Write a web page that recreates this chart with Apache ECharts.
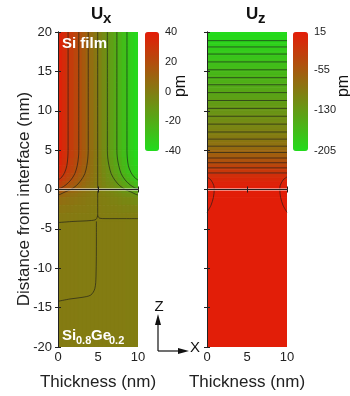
<!DOCTYPE html>
<html>
<head>
<meta charset="utf-8">
<script src="https://cdn.jsdelivr.net/npm/echarts@6/dist/echarts.min.js"></script>
<style>
  html, body { margin: 0; padding: 0; background: #fff; }
  #chart { width: 350px; height: 396px; }
</style>
</head>
<body>
<div id="chart"></div>
<script>
const FONT = "'Liberation Sans', Arial, sans-serif";

// Ux field: cell edges across the thickness, band edges in depth, one row of values per band
const uxEdges = [0, 0.5, 1, 1.5, 2, 2.5, 3, 3.5, 4, 4.5, 5, 5.5, 6, 6.5, 7, 7.5, 8, 8.5, 9, 9.5, 10];
const uxBandEdges = [20, 5, 4, 3, 2, 1.5, 1, 0.5, 0, -0.5, -1, -2, -3, -4, -20];
const uxRows = [
  [38, 34, 30, 26.5, 22.5, 18.7, 14.5, 10.2, 6, 2, -2.3, -6.3, -10.6, -14.8, -19, -23.2, -27, -31, -34.8, -38.5],
  [37.5, 33.5, 29.5, 25.8, 22, 18.2, 14.2, 10, 5.8, 1.9, -2.2, -6.1, -10.3, -14.4, -18.6, -22.7, -26.5, -30.5, -34.3, -38],
  [36.5, 32.3, 28.5, 24.6, 20.8, 17, 13.2, 9.4, 5.5, 1.8, -2.1, -5.8, -9.7, -13.6, -17.4, -21.4, -25.3, -29.5, -33.3, -37],
  [35, 31, 27, 23.2, 19.5, 15.7, 12, 8.5, 5, 1.6, -1.9, -5.3, -8.8, -12.4, -16.2, -20, -24, -28, -32, -35.5],
  [32, 28, 24.3, 20.7, 17.2, 14, 10.8, 7.5, 4.5, 1.5, -1.7, -4.8, -7.8, -11, -14.3, -17.8, -21.3, -25, -29, -32.5],
  [30, 26, 22.3, 18.8, 15.6, 12.6, 9.6, 6.7, 4, 1.3, -1.5, -4.3, -7, -9.9, -12.9, -16, -19.2, -22.7, -26.5, -30.5],
  [26, 22.5, 19.2, 16, 13.2, 10.6, 8.1, 5.7, 3.5, 1.1, -1.3, -3.7, -6, -8.4, -11, -13.6, -16.4, -19.5, -23, -26.5],
  [22, 19, 16, 13.3, 10.8, 8.6, 6.6, 4.7, 2.9, 0.9, -1.1, -3.1, -5, -7, -9, -11.2, -13.6, -16.3, -19.3, -22.5],
  [15, 12.7, 10.5, 8.6, 7, 5.5, 4.2, 3, 1.8, 0.6, -0.7, -2, -3.2, -4.5, -5.8, -7.3, -9, -11, -13, -15.5],
  [10, 8.6, 7.2, 5.9, 4.8, 3.8, 2.9, 2, 1.2, 0.4, -0.5, -1.3, -2.2, -3.1, -4, -5, -6.1, -7.4, -8.8, -10.3],
  [6, 5.2, 4.5, 3.8, 3.1, 2.5, 1.9, 1.3, 0.8, 0.3, -0.3, -0.8, -1.4, -2, -2.6, -3.3, -4, -4.7, -5.4, -6.2],
  [3, 2.7, 2.4, 2, 1.7, 1.4, 1.1, 0.8, 0.5, 0.2, -0.2, -0.5, -0.8, -1.1, -1.4, -1.8, -2.1, -2.4, -2.7, -3],
  [1.2, 1.1, 1, 0.9, 0.8, 0.6, 0.5, 0.3, 0.2, 0.1, -0.1, -0.2, -0.3, -0.5, -0.6, -0.7, -0.9, -1, -1.1, -1.2],
  [0.4, 0.4, 0.3, 0.3, 0.3, 0.2, 0.2, 0.1, 0.1, 0, 0, -0.1, -0.1, -0.1, -0.2, -0.2, -0.2, -0.3, -0.3, -0.3]
];

// Ux contour lines, [thickness, depth]
const uxContours = [
  [[1.26, 20], [1.26, 5], [1.22, 4], [1.1, 3], [0.85, 2.2], [0.5, 1.6], [0.15, 1.3], [0, 1.2]],
  [[2.6, 20], [2.6, 5], [2.55, 4], [2.4, 3], [2.1, 2], [1.6, 1.2], [1, 0.6], [0.4, 0.2], [0, 0.1]],
  [[3.78, 20], [3.78, 5], [3.73, 4], [3.6, 3], [3.35, 2], [2.9, 1.2], [2.3, 0.5], [1.6, 0], [0.9, -0.3], [0.3, -0.6], [0, -0.7]],
  [[4.96, 20], [4.96, -3.3]],
  [[6.17, 20], [6.17, 5], [6.22, 4], [6.38, 3], [6.65, 2], [7.1, 1.2], [7.7, 0.5], [8.4, 0], [9.1, -0.3], [9.7, -0.6], [10, -0.7]],
  [[7.36, 20], [7.36, 5], [7.42, 4], [7.6, 3], [7.9, 2], [8.4, 1.2], [9, 0.6], [9.6, 0.2], [10, 0.1]],
  [[8.62, 20], [8.62, 5], [8.66, 4], [8.8, 3], [9.1, 2.2], [9.5, 1.6], [9.85, 1.3], [10, 1.2]],
  [[4.96, -3.3], [4.75, -3.8], [4, -3.95], [2, -4.05], [0, -4.2]],
  [[4.96, -3.3], [5.2, -3.65], [6, -3.7], [8, -3.7], [10, -3.7]],
  [[4.8, -4.05], [4.8, -6], [4.75, -11], [4.6, -12.6], [4.1, -13.4], [3, -13.7], [1.5, -13.9], [0, -14.2]]
];

// Uz field: depth band edges and one value per band
const uzEdges = [20, 19.5, 19, 18.5, 18, 17.5, 17, 16.5, 16, 15.5, 15, 14.5, 14, 13.5, 13, 12.5, 12, 11.5, 11, 10.5,
  10, 9.5, 9, 8.5, 8, 7.5, 7, 6.5, 6, 5.5, 5, 4.5, 4, 3.5, 3, 2.5, 2, 1.5, 1, 0.5, 0, -1, -20];
const uzValues = [-203, -199, -195, -191, -187, -183, -179, -175, -171, -167,
  -163, -159, -155, -151, -147, -143, -139, -135, -131, -127,
  -123, -118, -114, -109, -105, -100, -94, -89, -83, -76,
  -68, -59, -48, -38, -27, -17, -7, 1, 7, 11,
  13, 13];

// Uz contour lines: horizontal levels plus the two edge curves
const uzLevels = [18.9, 18.1, 17.2, 16.2, 15.2, 14.2, 13.3, 12.3, 11.3, 10.3, 9.3, 8.3, 7.3, 6.4, 5.5, 4.7, 4.0, 3.4, 2.75, 2.1];
const uzEdgeCurves = [
  [[0, 1.6], [0.5, 1.2], [0.85, 0.5], [0.9, 0], [0.8, -1], [0.5, -2], [0, -2.9]],
  [[10, 1.6], [9.5, 1.2], [9.15, 0.5], [9.1, 0], [9.2, -1], [9.5, -2], [10, -2.9]]
];

const interfaceLine = [[0, 0], [10, 0]];
const uxTicks = [40, 20, 0, -20, -40];
const uzTicks = [15, -55, -130, -205];

const uxData = [];
uxRows.forEach((row, r) => {
  row.forEach((v, c) => {
    uxData.push([uxEdges[c], uxEdges[c + 1], uxBandEdges[r + 1], uxBandEdges[r], v]);
  });
});
const uzData = uzValues.map((v, r) => [0, 10, uzEdges[r + 1], uzEdges[r], v]);

function renderCell(params, api) {
  const p0 = api.coord([api.value(0), api.value(3)]);
  const p1 = api.coord([api.value(1), api.value(2)]);
  const color = api.visual("color");
  return {
    type: "rect",
    shape: { x: p0[0], y: p0[1], width: p1[0] - p0[0], height: p1[1] - p0[1] },
    style: { fill: color, stroke: color, lineWidth: 0.8 }
  };
}

const tick = { inside: true, length: 3, lineStyle: { color: "#222" } };
const line = { show: true, lineStyle: { color: "#222", width: 1 } };
const label = { color: "#222", fontSize: 13, fontFamily: FONT };

function plotAxes(grid, showY) {
  return {
    x: [
      {
        gridIndex: grid, type: "value", min: 0, max: 10, interval: 5, z: 10,
        axisLine: line, axisTick: tick, splitLine: { show: false },
        axisLabel: Object.assign({ margin: 4 }, label),
        name: "Thickness (nm)", nameLocation: "middle", nameGap: 27,
        nameTextStyle: { fontSize: 17, color: "#222", fontFamily: FONT }
      },
      {
        gridIndex: grid, type: "value", position: "top", min: 0, max: 10, interval: 5, z: 10,
        axisLine: line, axisTick: tick, splitLine: { show: false }, axisLabel: { show: false }
      }
    ],
    y: [
      {
        gridIndex: grid, type: "value", min: -20, max: 20, interval: 5, z: 10,
        axisLine: line, axisTick: tick, splitLine: { show: false },
        axisLabel: Object.assign({ show: showY, margin: 6 }, label)
      },
      {
        gridIndex: grid, type: "value", position: "right", min: -20, max: 20, interval: 5, z: 10,
        axisLine: line, axisTick: tick, splitLine: { show: false }, axisLabel: { show: false }
      }
    ]
  };
}

const left = plotAxes(0, true);
const right = plotAxes(1, false);

const barLabel = { color: "#222", fontSize: 11, fontFamily: FONT, margin: 6 };
const ramp = ["#22dc1c", "#e41c08"];

const chart = echarts.init(document.getElementById("chart"));

const contourStyle = { color: "#1a1a1a", width: 0.8, opacity: 0.8 };
const contourSeries = [];
uxContours.forEach((pts) => {
  contourSeries.push({
    type: "line", xAxisIndex: 0, yAxisIndex: 0, data: pts, showSymbol: false,
    smooth: 0.3, lineStyle: contourStyle, z: 4, silent: true
  });
});
uzLevels.forEach((y) => {
  contourSeries.push({
    type: "line", xAxisIndex: 2, yAxisIndex: 2, data: [[0, y], [10, y]], showSymbol: false,
    lineStyle: contourStyle, z: 4, silent: true
  });
});
uzEdgeCurves.forEach((pts) => {
  contourSeries.push({
    type: "line", xAxisIndex: 2, yAxisIndex: 2, data: pts, showSymbol: false,
    smooth: 0.3, lineStyle: contourStyle, z: 4, silent: true
  });
});
[0, 2].forEach((ax) => {
  contourSeries.push({
    type: "line", xAxisIndex: ax, yAxisIndex: ax, data: interfaceLine, showSymbol: false,
    lineStyle: { color: "#fff", width: 2, opacity: 0.95 }, z: 6, silent: true
  });
});

function txt(text, x, y, size, opts) {
  return {
    type: "text", x: x, y: y, rotation: (opts && opts.rotation) || 0, z: 20,
    style: {
      text: text, fill: (opts && opts.fill) || "#111",
      font: ((opts && opts.bold) ? "bold " : "") + size + "px " + FONT,
      align: (opts && opts.align) || "left", verticalAlign: "middle"
    }
  };
}

chart.setOption({
  animation: false,
  grid: [
    { left: 58, top: 32, width: 80, height: 316 },
    { left: 207, top: 32, width: 80, height: 316 },
    { left: 145, top: 32, width: 14, height: 119 },
    { left: 293, top: 32, width: 15, height: 119 }
  ],
  xAxis: [
    left.x[0], left.x[1], right.x[0], right.x[1],
    { gridIndex: 2, type: "value", show: false, min: 0, max: 1 },
    { gridIndex: 3, type: "value", show: false, min: 0, max: 1 }
  ],
  yAxis: [
    left.y[0], left.y[1], right.y[0], right.y[1],
    {
      gridIndex: 2, type: "value", position: "right", min: -40, max: 40, interval: 20,
      axisLine: { show: false }, axisTick: { show: false }, splitLine: { show: false },
      axisLabel: Object.assign({ customValues: uxTicks }, barLabel)
    },
    {
      gridIndex: 3, type: "value", position: "right", min: -205, max: 15, interval: 75,
      axisLine: { show: false }, axisTick: { show: false }, splitLine: { show: false },
      axisLabel: Object.assign({ customValues: uzTicks }, barLabel)
    }
  ],
  visualMap: [
    {
      type: "continuous", seriesIndex: 0, dimension: 4, min: -40, max: 40,
      left: 145, top: 32, itemWidth: 14, itemHeight: 119, padding: 0,
      calculable: false, hoverLink: false, text: null, showLabel: false,
      inRange: { color: ramp }
    },
    {
      type: "continuous", seriesIndex: 1, dimension: 4, min: -205, max: 15,
      left: 293, top: 32, itemWidth: 15, itemHeight: 119, padding: 0,
      calculable: false, hoverLink: false, text: null, showLabel: false,
      inRange: { color: ramp }
    }
  ],
  series: [
    {
      type: "custom", xAxisIndex: 0, yAxisIndex: 0, data: uxData, renderItem: renderCell,
      clip: true, silent: true, z: 2
    },
    {
      type: "custom", xAxisIndex: 2, yAxisIndex: 2, data: uzData, renderItem: renderCell,
      clip: true, silent: true, z: 2
    }
  ].concat(contourSeries),
  graphic: [
    txt("U", 91, 14, 17, { bold: true }),
    txt("x", 103, 19, 15, { bold: true }),
    txt("U", 246, 14, 17, { bold: true }),
    txt("z", 258, 19, 15, { bold: true }),
    txt("Si film", 62, 44, 15, { bold: true, fill: "#fff" }),
    txt("Si", 62, 336, 15, { bold: true, fill: "#fff" }),
    txt("0.8", 76, 341, 11, { bold: true, fill: "#fff" }),
    txt("Ge", 91, 336, 15, { bold: true, fill: "#fff" }),
    txt("0.2", 109, 341, 11, { bold: true, fill: "#fff" }),
    txt("pm", 181, 86, 16, { align: "center", rotation: Math.PI / 2 }),
    txt("pm", 344, 86, 16, { align: "center", rotation: Math.PI / 2 }),
    txt("Distance from interface (nm)", 24, 199, 17, { align: "center", rotation: Math.PI / 2, fill: "#222" }),
    txt("Z", 159, 307, 15, { align: "center" }),
    txt("X", 195, 348, 15, { align: "center" }),
    { type: "line", z: 20, shape: { x1: 158, y1: 351, x2: 158, y2: 323 }, style: { stroke: "#111", lineWidth: 1.2 } },
    { type: "polygon", z: 20, shape: { points: [[158, 314], [155, 325], [161, 325]] }, style: { fill: "#111" } },
    { type: "line", z: 20, shape: { x1: 158, y1: 351, x2: 180, y2: 351 }, style: { stroke: "#111", lineWidth: 1.2 } },
    { type: "polygon", z: 20, shape: { points: [[189, 351], [178, 348], [178, 354]] }, style: { fill: "#111" } }
  ]
});
</script>
</body>
</html>
